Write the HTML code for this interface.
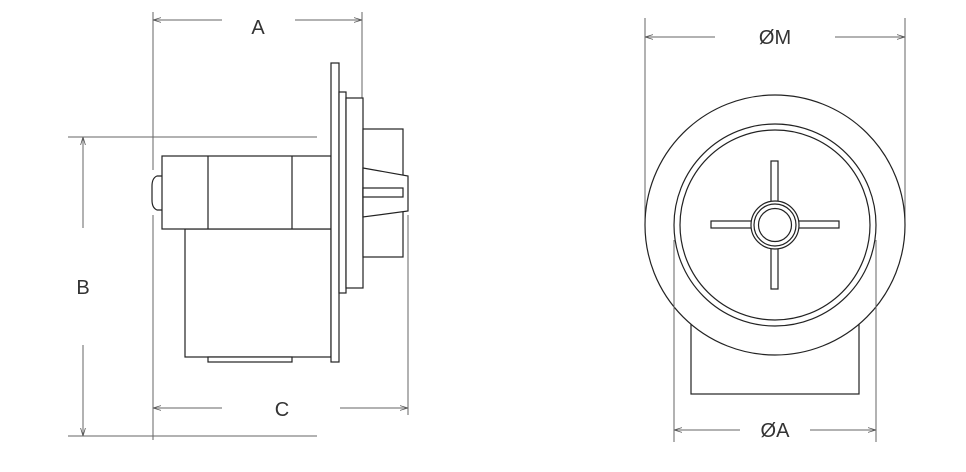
<!DOCTYPE html>
<html><head><style>body{margin:0;background:#fff}svg{display:block}text{font-family:"Liberation Sans",sans-serif;font-size:20px;fill:#333}</style></head><body>
<svg width="966" height="472" viewBox="0 0 966 472" xmlns="http://www.w3.org/2000/svg">
<defs><marker id="ar" viewBox="0 0 10 10" refX="10" refY="5" markerWidth="8" markerHeight="8" orient="auto-start-reverse"><path d="M0,2 L10,5 L0,8" fill="none" stroke="#555" stroke-width="1"/></marker></defs>
<g stroke="#666" stroke-width="1" fill="none">
<line x1="153" y1="12" x2="153" y2="170"/><line x1="153" y1="215" x2="153" y2="440"/>
<line x1="362" y1="12" x2="362" y2="98"/>
<line x1="408" y1="215" x2="408" y2="415"/>
<line x1="68" y1="137" x2="317" y2="137"/>
<line x1="68" y1="436" x2="317" y2="436"/>
<line x1="153" y1="20" x2="222" y2="20" marker-start="url(#ar)"/><line x1="295" y1="20" x2="362" y2="20" marker-end="url(#ar)"/>
<line x1="153" y1="408" x2="222" y2="408" marker-start="url(#ar)"/><line x1="340" y1="408" x2="408" y2="408" marker-end="url(#ar)"/>
<line x1="83" y1="137" x2="83" y2="228" marker-start="url(#ar)"/><line x1="83" y1="345" x2="83" y2="436" marker-end="url(#ar)"/>
<line x1="645" y1="18" x2="645" y2="225"/><line x1="905" y1="18" x2="905" y2="225"/>
<line x1="645" y1="37" x2="715" y2="37" marker-start="url(#ar)"/><line x1="835" y1="37" x2="905" y2="37" marker-end="url(#ar)"/>
<line x1="674" y1="430" x2="740" y2="430" marker-start="url(#ar)"/><line x1="810" y1="430" x2="876" y2="430" marker-end="url(#ar)"/>
</g>
<g stroke="#222" stroke-width="1.2" fill="#fff">
<path d="M162,176 L157,176 Q152,178 152,186 L152,200 Q152,208 157,210 L162,210"/>
<rect x="185" y="229" width="146" height="128"/>
<rect x="208" y="357" width="84" height="5"/>
<rect x="162" y="156" width="169" height="73"/>
<line x1="208" y1="156" x2="208" y2="229"/><line x1="292" y1="156" x2="292" y2="229"/>
<rect x="331" y="63" width="8" height="299"/>
<rect x="339" y="92" width="7" height="201"/>
<rect x="346" y="98" width="17" height="190"/>
<rect x="363" y="129" width="40" height="128"/>
<path d="M363,168 L408,176 L408,211 L363,217 Z"/>
<rect x="363" y="188" width="40" height="9"/>
<rect x="691" y="260" width="168" height="134"/>
<circle cx="775" cy="225" r="130"/>
<circle cx="775" cy="225" r="101"/>
<circle cx="775" cy="225" r="95"/>
<rect x="771" y="161" width="7" height="128"/>
<rect x="711" y="221" width="128" height="7"/>
<circle cx="775" cy="225" r="24"/>
<circle cx="775" cy="225" r="21" fill="none"/>
<circle cx="775" cy="225" r="16.5"/>
</g>
<g stroke="#666" stroke-width="1">
<line x1="674" y1="240" x2="674" y2="442"/><line x1="876" y1="240" x2="876" y2="442"/>
</g>
<text x="258" y="34" text-anchor="middle">A</text>
<text x="282" y="416" text-anchor="middle">C</text>
<text x="83" y="294" text-anchor="middle">B</text>
<text x="775" y="44" text-anchor="middle">ØM</text>
<text x="775" y="437" text-anchor="middle">ØA</text>
</svg>
</body></html>
